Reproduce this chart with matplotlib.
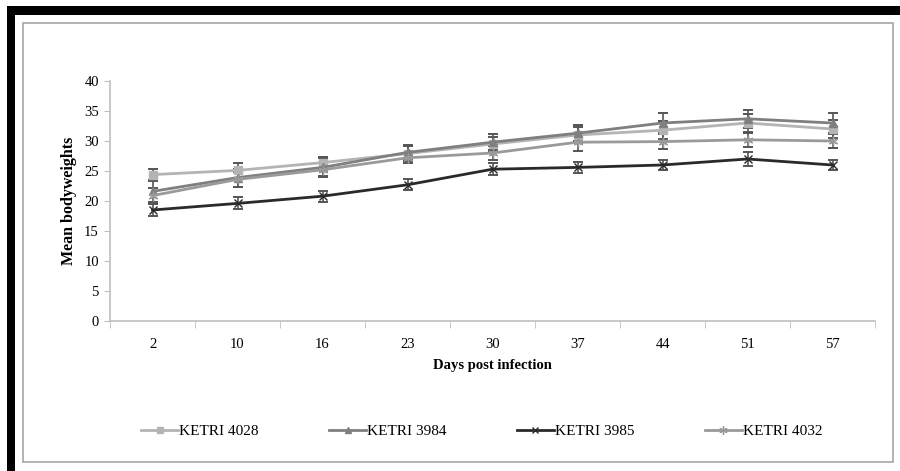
import matplotlib
matplotlib.use("Agg")
import matplotlib.pyplot as plt
from matplotlib.patches import Rectangle
from matplotlib.lines import Line2D
import numpy as np

days = ["2", "10", "16", "23", "30", "37", "44", "51", "57"]
series_names = ["KETRI 4028", "KETRI 3984", "KETRI 3985", "KETRI 4032"]
ketri_4028 = [24.4, 25.1, 26.4, 27.9, 29.5, 31.0, 31.8, 33.0, 32.0]
ketri_3984 = [21.6, 23.9, 25.6, 28.1, 29.8, 31.3, 33.0, 33.7, 33.0]
ketri_3985 = [18.5, 19.6, 20.8, 22.7, 25.3, 25.6, 26.0, 27.0, 26.0]
ketri_4032 = [20.9, 23.6, 25.2, 27.2, 28.0, 29.8, 29.9, 30.2, 30.0]
err_4028 = [0.9, 1.2, 1.0, 1.2, 1.2, 1.4, 1.5, 1.5, 1.5]
err_3984 = [1.8, 1.5, 1.5, 1.2, 1.3, 1.3, 1.6, 1.5, 1.6]
err_3985 = [1.0, 1.0, 0.9, 0.9, 1.0, 0.9, 0.9, 1.1, 0.9]
err_4032 = [1.2, 1.3, 1.2, 0.8, 1.2, 1.4, 1.2, 1.2, 1.1]
y_ticks = [0, 5, 10, 15, 20, 25, 30, 35, 40]

plt.rcParams['font.family'] = ['Liberation Serif', 'DejaVu Serif']

W, H = 900, 471
fig = plt.figure(figsize=(W / 100, H / 100), dpi=100)

def px(x0, y0, x1, y1):
    return (x0 / W, 1 - y1 / H, (x1 - x0) / W, (y1 - y0) / H)

# frame decorations
for (x0, y0, x1, y1) in [(7, 6, 900, 15), (7, 6, 15, 471)]:
    l, b, w, h = px(x0, y0, x1, y1)
    fig.patches.append(Rectangle((l, b), w, h, transform=fig.transFigure,
                                 facecolor='black', edgecolor='none'))
l, b, w, h = px(23, 23, 893, 462)
fig.patches.append(Rectangle((l, b), w, h, transform=fig.transFigure,
                             facecolor='none', edgecolor='#a6a6a6', lw=1.2))

ax = fig.add_axes(px(110, 81, 875, 321))
x = np.arange(len(days))

asterisk = (6, 2, 0)
styles = [
    (ketri_4028, err_4028, '#b4b4b4', 's', 6),
    (ketri_3984, err_3984, '#7f7f7f', '^', 6),
    (ketri_3985, err_3985, '#2a2a2a', 'x', 6),
    (ketri_4032, err_4032, '#9a9a9a', asterisk, 7),
]
handles = []
for (vals, errs, col, mk, ms), name in zip(styles, series_names):
    ax.errorbar(x, vals, yerr=errs, color=col, marker=mk, markersize=ms,
                lw=2, elinewidth=1.2, capsize=3.5, capthick=1.4,
                ecolor='#555555', zorder=3)
    handles.append(Line2D([], [], color=col, marker=mk, markersize=ms - 1, lw=2))

ax.set_xlim(-0.5, len(days) - 0.5)
ax.set_ylim(0, 40)
ax.set_yticks(y_ticks)
ax.set_xticks(x)
ax.set_xticklabels(days)
ax.set_xticks(np.arange(-0.5, len(days), 1.0), minor=True)
ax.tick_params(axis='x', which='major', length=0, pad=12, labelsize=10.5)
ax.tick_params(axis='x', which='minor', length=5, color='#bfbfbf', direction='out')
ax.tick_params(axis='y', length=4, color='#bfbfbf', labelsize=10.5, pad=4)
for s in ['top', 'right']:
    ax.spines[s].set_visible(False)
for s in ['left', 'bottom']:
    ax.spines[s].set_color('#bfbfbf')
    ax.spines[s].set_linewidth(1.2)

ax.set_xlabel("Days post infection", fontsize=10.5, fontweight='bold', labelpad=6)
ax.set_ylabel("Mean bodyweights", fontsize=11.5, fontweight='bold', labelpad=5)

fig.legend(handles=handles, labels=series_names, loc='center',
           bbox_to_anchor=(482 / W, 1 - 431 / H), ncol=4, frameon=False,
           fontsize=11, handlelength=2.4, columnspacing=4.6, handletextpad=0.1)

fig.savefig("out.png", dpi=100)
